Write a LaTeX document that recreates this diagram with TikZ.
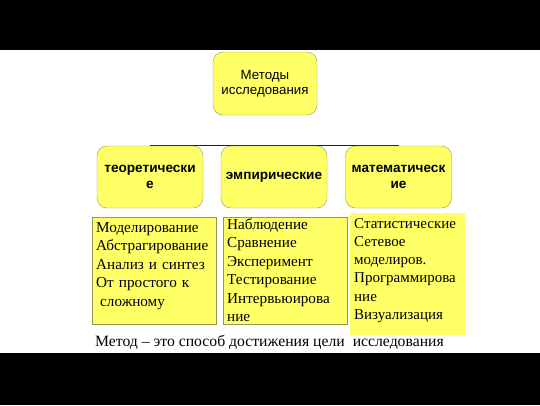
\documentclass[tikz,border=0pt]{standalone}
\usepackage{fontspec}
\setmainfont{Liberation Serif}
\setsansfont{Liberation Sans}
\usetikzlibrary{backgrounds}
\definecolor{boxyellow}{RGB}{255,255,102}
\definecolor{boxedge}{RGB}{150,150,90}
\definecolor{linknavy}{RGB}{30,30,60}
\begin{document}
\begin{tikzpicture}[x=1pt,y=-1pt]
	% Styles for the boxes and lists
	\tikzset{group/.style={draw=boxedge,fill=boxyellow,rounded corners=10pt,minimum width=106pt,minimum height=62pt,align=center,inner sep=2pt,font=\sffamily\bfseries\fontsize{13.6}{16.5}\selectfont}}
	\tikzset{list/.style={draw=boxedge,fill=boxyellow,anchor=north west,inner sep=0pt}}
	\tikzset{items/.style={anchor=base west,inner sep=0pt,text width=135pt,align=left,font=\fontsize{15.2}{18.5}\selectfont}}
	\useasboundingbox (0,0) rectangle (540,405);

	% Top box and the three groups
	\node[group,font=\sffamily\fontsize{13.3}{15.5}\selectfont,minimum width=104pt,minimum height=63pt] (methods) at (265,83.5) {Методы\\исследования};
	\node[group] (theory) at (150,177) {теоретически\\е};
	\node[group] (empiric) at (274,177) {эмпирические};
	\node[group] (math) at (398.5,177) {математическ\\ие};

	% Lists under the groups
	\node[list,minimum width=124pt,minimum height=107pt] (theorybox) at (92,217) {};
	\node[list,minimum width=124pt,minimum height=107pt] (empiricbox) at (223,217) {};
	\node[list,draw=none,minimum width=115pt,minimum height=122pt] (mathbox) at (350,213) {};

	\node[items] (theorytext) at (96,232) {Моделирование\\Абстрагирование\\Анализ и синтез\\От простого к\\\hspace{4pt}сложному};
	\node[items] (empirictext) at (227,229) {Наблюдение\\Сравнение\\Эксперимент\\Тестирование\\Интервьюирова\\ние};
	\node[items,font=\fontsize{15}{18.3}\selectfont] (mathtext) at (354,228) {Статистические\\Сетевое\\моделиров.\\Программирова\\ние\\Визуализация};

	\node[anchor=base west,inner sep=0pt,font=\fontsize{15.7}{18}\selectfont] (definition) at (95,346) {Метод – это способ достижения цели\hspace{8pt}исследования};

	% Frame and the joining line behind the boxes
	\begin{scope}[on background layer]
		\fill[black] (0,0) rectangle (540,405);
		\fill[white] (0,50) rectangle (540,353);
		\draw[linknavy,line width=1pt] (theory.north) -- (math.north);
	\end{scope}
\end{tikzpicture}
\end{document}
